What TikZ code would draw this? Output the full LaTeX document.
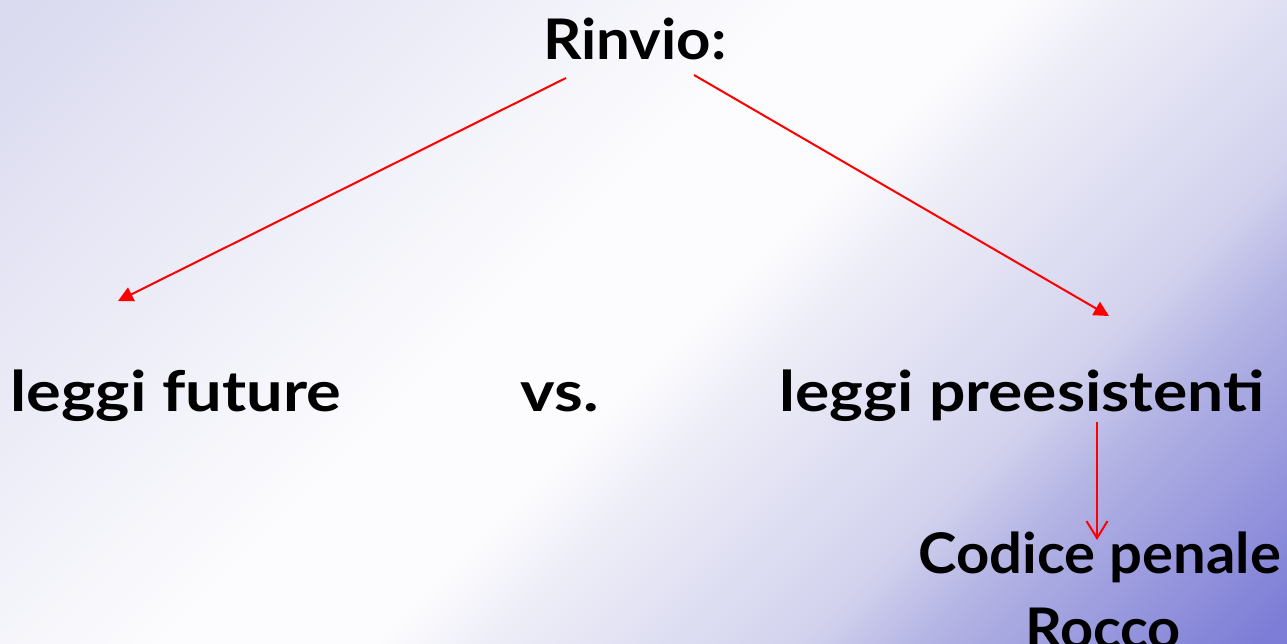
\documentclass[tikz,border=0pt]{standalone}
\usepackage{fontspec}
\setmainfont{Lato}
\usetikzlibrary{arrows.meta}
\definecolor{bgA}{HTML}{DADAF0}
\definecolor{bgW}{HTML}{FCFCFE}
\definecolor{bgC}{HTML}{EEEEF8}
\definecolor{bgD}{HTML}{D2D2EE}
\definecolor{bgE}{HTML}{B2B2E4}
\definecolor{bgB}{HTML}{7D7DD7}
\pgfdeclarehorizontalshading{bgshade}{100bp}{color(0bp)=(bgA); color(18.88bp)=(bgA); color(44.7bp)=(bgW); color(51.77bp)=(bgW); color(55.3bp)=(bgC); color(65.9bp)=(bgD); color(70.3bp)=(bgE); color(81.1bp)=(bgB); color(100bp)=(bgB)}
\newcommand{\wtxt}[2]{\scalebox{#1}[1]{#2}}
\tikzset{
  lbl/.style={font=\fontsize{56}{60}\selectfont\bfseries, text=black, inner sep=0pt, anchor=base},
  rarrow/.style={draw=red, line width=2pt, -{Triangle[length=15pt,width=15pt]}},
  varrow/.style={draw=red, line width=2pt, -{Straight Barb[length=17pt,width=21pt]}}
}
\begin{document}
\begin{tikzpicture}[x=1pt,y=-1pt]
\useasboundingbox (0,0) rectangle (1287,644);
\begin{scope}
\clip (0,0) rectangle (1287,644);
\shade[shading=bgshade, shading angle=-45] (0,-103) rectangle (1287,747);
\end{scope}
\node[lbl] (rinvio) at (635,60) {\wtxt{1.07}{Rinvio:}};
\node[lbl] (future) at (176,411) {\wtxt{1.16}{leggi future}};
\node[lbl] (vs) at (560,411) {\wtxt{1.17}{vs.}};
\node[lbl] (pree) at (1022,411) {\wtxt{1.145}{leggi preesistenti}};
\node[lbl] (codice) at (1100,573) {\wtxt{1.035}{Codice penale}};
\node[lbl] (rocco) at (1103,648) {\wtxt{1.03}{Rocco}};
\coordinate (r1) at (566,78);
\coordinate (r2) at (694,75);
\coordinate (f1) at (118,301);
\coordinate (p1) at (1109,316);
\coordinate (p2) at (1097,422);
\coordinate (c1) at (1097,540);
\draw[rarrow] (r1) -- (f1);
\draw[rarrow] (r2) -- (p1);
\draw[varrow] (p2) -- (c1);
\end{tikzpicture}
\end{document}
